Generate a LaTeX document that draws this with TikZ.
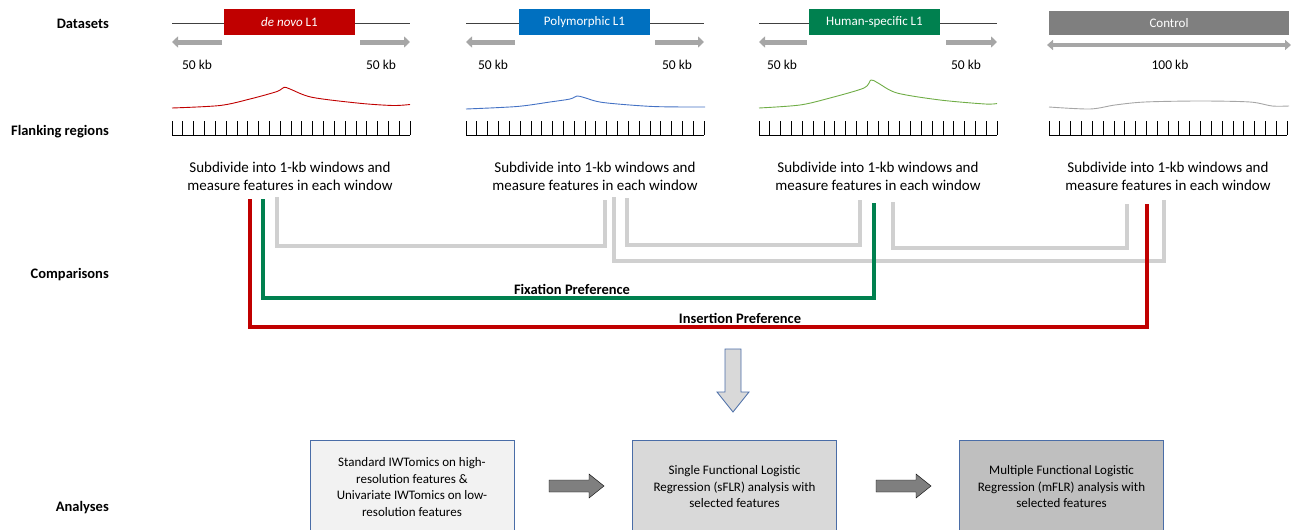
\documentclass[tikz,border=0pt]{standalone}
\usepackage{fontspec}
\setmainfont{Carlito}
\usetikzlibrary{arrows.meta}
\definecolor{dred}{HTML}{C00000}
\definecolor{dblue}{HTML}{0070C0}
\definecolor{dgreen}{HTML}{00804F}
\definecolor{cgray}{HTML}{7F7F7F}
\definecolor{lgray}{HTML}{D0D0D0}
\definecolor{agray}{HTML}{A6A6A6}
\definecolor{cblue}{HTML}{4472C4}
\definecolor{cgreen}{HTML}{70AD47}
\definecolor{cctrl}{HTML}{A6A6A6}
\definecolor{bord}{HTML}{4A6DA7}
\definecolor{fillA}{HTML}{F2F2F2}
\definecolor{fillB}{HTML}{D9D9D9}
\definecolor{fillC}{HTML}{BFBFBF}
\begin{document}
\begin{tikzpicture}[x=1pt,y=-1pt,
  rowlabel/.style={anchor=east, inner sep=0pt, font=\fontsize{14.5}{17}\selectfont\bfseries},
  dsbox/.style={minimum width=131pt, minimum height=26pt, inner sep=0pt, text=white, font=\fontsize{13}{15}\selectfont},
  kb/.style={inner sep=0pt, font=\fontsize{13.5}{15}\selectfont},
  subtext/.style={align=center, inner sep=0pt, font=\fontsize{15}{18}\selectfont},
  flankline/.style={line width=1pt, black!75},
  flank/.style={line width=5pt, agray, -{Triangle[length=6pt,width=11pt]}},
  conn/.style={line width=4pt},
  clabel/.style={inner sep=0pt, font=\fontsize{14.5}{17}\selectfont\bfseries},
  abox/.style={draw=bord, line width=0.8pt, minimum width=204pt, minimum height=94pt, inner sep=0pt, align=center, font=\fontsize{13}{16.5}\selectfont},
  blockarrow/.style={fill=cgray},
  downarrow/.style={fill=fillB, draw=bord, line width=0.8pt},
  curve/.style={line width=0.9pt},
  ruler/.style={line width=0.8pt, black}
]
\clip (0,0) rectangle (1291,530);

% row labels
\node[rowlabel] (lDatasets) at (109,24) {Datasets};
\node[rowlabel] (lFlank) at (109,132) {Flanking regions};
\node[rowlabel] (lComp) at (109,275) {Comparisons};
\node[rowlabel] (lAna) at (109,508) {Analyses};

% ---------- dataset 1: de novo
\draw[flankline] (172,23) -- (410,23);
\node[dsbox, fill=dred] (ds1) at (289.5,22) {\itshape de novo\upshape{} L1};
\draw[flank] (222,42) -- (172,42);
\draw[flank] (360,42) -- (410,42);
\node[kb] (kb1a) at (197,65) {50 kb};
\node[kb] (kb1b) at (381,65) {50 kb};
\draw[curve, dred] plot[smooth, tension=0.5] coordinates {(172,108) (220,105.5) (250,99) (277,91.5) (284,87.3) (290,89) (312,97.3) (360,103.3) (393,105.5) (410,104.5)};
\draw[ruler] (172,135) -- (410,135);
\foreach \i in {0,...,22} \draw[ruler] ({172+\i*238/22},121) -- ({172+\i*238/22},135);
\node[subtext] (sub1) at (290,176) {Subdivide into 1-kb windows and\\measure features in each window};

% ---------- dataset 2: polymorphic
\draw[flankline] (466,23) -- (704,23);
\node[dsbox, fill=dblue] (ds2) at (584.5,22) {Polymorphic L1};
\draw[flank] (515,42) -- (466,42);
\draw[flank] (655,42) -- (704,42);
\node[kb] (kb2a) at (493,65) {50 kb};
\node[kb] (kb2b) at (677,65) {50 kb};
\draw[curve, cblue] plot[smooth, tension=0.5] coordinates {(466,109) (517,106.5) (550,102) (570,99) (577,96) (584,97.5) (603,102.5) (653,106.5) (705,107)};
\draw[ruler] (466,135) -- (704,135);
\foreach \i in {0,...,22} \draw[ruler] ({466+\i*238/22},121) -- ({466+\i*238/22},135);
\node[subtext] (sub2) at (595,176) {Subdivide into 1-kb windows and\\measure features in each window};

% ---------- dataset 3: human-specific
\draw[flankline] (759,23) -- (997,23);
\node[dsbox, fill=dgreen] (ds3) at (874.5,22) {Human-specific L1};
\draw[flank] (807,42) -- (759,42);
\draw[flank] (946,42) -- (997,42);
\node[kb] (kb3a) at (782,65) {50 kb};
\node[kb] (kb3b) at (966,65) {50 kb};
\draw[curve, cgreen] plot[smooth, tension=0.5] coordinates {(759,108) (800,105) (830,98) (864,88) (871,80) (878,83) (897,93) (940,100) (985,104) (997,103.5)};
\draw[ruler] (759,135) -- (997,135);
\foreach \i in {0,...,22} \draw[ruler] ({759+\i*238/22},121) -- ({759+\i*238/22},135);
\node[subtext] (sub3) at (878,176) {Subdivide into 1-kb windows and\\measure features in each window};

% ---------- dataset 4: control
\node[dsbox, fill=cgray, minimum width=240pt, minimum height=24pt] (ds4) at (1169,23) {Control};
\draw[line width=4pt, agray, {Triangle[length=6pt,width=10pt]}-{Triangle[length=6pt,width=10pt]}] (1047,45) -- (1291,45);
\node[kb] (kb4) at (1170,65) {100 kb};
\draw[curve, cctrl] plot[smooth, tension=0.5] coordinates {(1049,107) (1090,109) (1115,105) (1145,102) (1200,101) (1250,102) (1272,106) (1289,106)};
\draw[ruler] (1049,135) -- (1287,135);
\foreach \i in {0,...,22} \draw[ruler] ({1049+\i*238/22},121) -- ({1049+\i*238/22},135);
\node[subtext] (sub4) at (1168,176) {Subdivide into 1-kb windows and\\measure features in each window};

% ---------- comparison connectors
\coordinate (gA1) at (277,197); \coordinate (gA2) at (605,200);
\coordinate (gB1) at (614,197); \coordinate (gB2) at (1164,200);
\coordinate (gC1) at (627,198); \coordinate (gC2) at (860,200);
\coordinate (gD1) at (893,202); \coordinate (gD2) at (1127,204);
\coordinate (gr1) at (263,199); \coordinate (gr2) at (874,203);
\coordinate (rd1) at (249.5,199); \coordinate (rd2) at (1147,204);

\draw[conn, lgray] (gA1) -- (gA1 |- 0,246) -| (gA2);
\draw[conn, lgray] (gB1) -- (gB1 |- 0,261) -| (gB2);
\draw[conn, lgray] (gC1) -- (gC1 |- 0,245) -| (gC2);
\draw[conn, lgray] (gD1) -- (gD1 |- 0,248) -| (gD2);
\draw[conn, dgreen] (gr1) -- (gr1 |- 0,298) -| (gr2);
\draw[conn, dred] (rd1) -- (rd1 |- 0,327) -| (rd2);

\node[clabel] (fix) at (572,289) {Fixation Preference};
\node[clabel] (ins) at (740,318) {Insertion Preference};

% ---------- down arrow
\draw[downarrow] (725,349) -- (741,349) -- (741,392) -- (749,392) -- (733,412) -- (717,392) -- (725,392) -- cycle;

% ---------- analyses boxes
\node[abox, fill=fillA] (b1) at (412,487) {Standard IWTomics on high-\\resolution features \&\\Univariate IWTomics on low-\\resolution features};
\node[abox, fill=fillB] (b2) at (734.5,487) {Single Functional Logistic\\Regression (sFLR) analysis with\\selected features};
\node[abox, fill=fillC] (b3) at (1061.5,487) {Multiple Functional Logistic\\Regression (mFLR) analysis with\\selected features};

\draw[blockarrow] (549,480) -- (589,480) -- (589,474) -- (604,486) -- (589,498) -- (589,492) -- (549,492) -- cycle;
\draw[blockarrow] (876,480) -- (916,480) -- (916,474) -- (931,486) -- (916,498) -- (916,492) -- (876,492) -- cycle;
\end{tikzpicture}
\end{document}
